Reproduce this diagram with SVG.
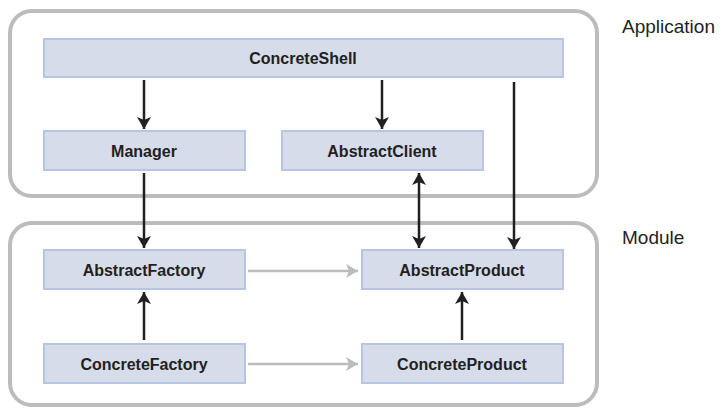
<svg xmlns="http://www.w3.org/2000/svg" width="725" height="409" viewBox="0 0 725 409">
<style>
.cont{fill:#fff;stroke:#bcbcbc;stroke-width:4}
.node{fill:#d6dce9;stroke:#b5c5e2;stroke-width:2}
.nt{font-family:"Liberation Sans",Arial,sans-serif;font-weight:bold;font-size:16px;fill:#231f20;text-anchor:middle}
.lbl{font-family:"Liberation Sans",Arial,sans-serif;font-size:19px;fill:#231f20}
.blk{stroke:#231f20;stroke-width:2.5;fill:none}
.gry{stroke:#bcbcbc;stroke-width:2.5;fill:none}
</style>
<defs>
<marker id="ab" viewBox="0 0 12 14" refX="12" refY="7" markerWidth="12" markerHeight="14" markerUnits="userSpaceOnUse" orient="auto-start-reverse">
<path d="M0,0 L12,7 L0,14 L3,7 Z" fill="#231f20"/>
</marker>
<marker id="ag" viewBox="0 0 12 14" refX="12" refY="7" markerWidth="12" markerHeight="14" markerUnits="userSpaceOnUse" orient="auto">
<path d="M0,0 L12,7 L0,14 L3,7 Z" fill="#bcbcbc"/>
</marker>
</defs>
<g id="application">
<rect class="cont" x="10" y="11" width="587" height="185" rx="22"/>
<text class="lbl" x="622" y="33">Application</text>
</g>
<g id="module">
<rect class="cont" x="10" y="223" width="587" height="182" rx="22"/>
<text class="lbl" x="622" y="244">Module</text>
</g>
<g id="ConcreteShell"><rect class="node" x="44" y="39" width="519" height="38"/><text class="nt" x="303" y="64">ConcreteShell</text></g>
<g id="Manager"><rect class="node" x="44" y="131" width="201" height="39"/><text class="nt" x="144" y="157">Manager</text></g>
<g id="AbstractClient"><rect class="node" x="282" y="131" width="201" height="39"/><text class="nt" x="382" y="157">AbstractClient</text></g>
<g id="AbstractFactory"><rect class="node" x="44" y="250" width="201" height="39"/><text class="nt" x="144" y="276">AbstractFactory</text></g>
<g id="AbstractProduct"><rect class="node" x="362" y="250" width="201" height="39"/><text class="nt" x="462" y="276">AbstractProduct</text></g>
<g id="ConcreteFactory"><rect class="node" x="44" y="344" width="201" height="39"/><text class="nt" x="144" y="370">ConcreteFactory</text></g>
<g id="ConcreteProduct"><rect class="node" x="362" y="344" width="201" height="39"/><text class="nt" x="462" y="370">ConcreteProduct</text></g>
<g id="connectors">
<line class="blk" x1="144" y1="80" x2="144" y2="129" marker-end="url(#ab)"/>
<line class="blk" x1="382" y1="80" x2="382" y2="129" marker-end="url(#ab)"/>
<line class="blk" x1="514" y1="82" x2="514" y2="249" marker-end="url(#ab)"/>
<line class="blk" x1="144" y1="173" x2="144" y2="248" marker-end="url(#ab)"/>
<line class="blk" x1="419" y1="173" x2="419" y2="248" marker-start="url(#ab)" marker-end="url(#ab)"/>
<line class="blk" x1="144" y1="340" x2="144" y2="292" marker-end="url(#ab)"/>
<line class="blk" x1="462" y1="340" x2="462" y2="292" marker-end="url(#ab)"/>
<line class="gry" x1="248" y1="271" x2="358" y2="271" marker-end="url(#ag)"/>
<line class="gry" x1="248" y1="364" x2="358" y2="364" marker-end="url(#ag)"/>
</g>
</svg>
